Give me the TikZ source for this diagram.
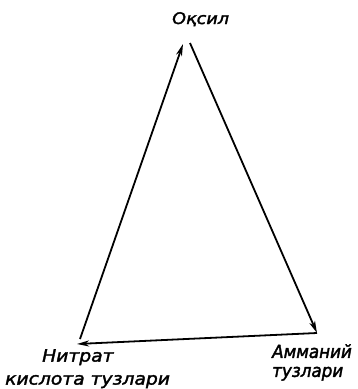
\documentclass[tikz,border=0pt]{standalone}
\usepackage{fontspec}
\newfontfamily\lblfonta[FakeStretch=1.1,FakeBold=2]{DejaVu Sans}
\newfontfamily\lblfontc[FakeStretch=0.93,FakeBold=2]{DejaVu Sans}
\usetikzlibrary{arrows.meta}
\begin{document}
\begin{tikzpicture}[x=1pt,y=-1pt,
  lbl/.style={inner sep=0pt, align=left},
  edge/.style={line width=1.8pt, -{Stealth[length=12pt,width=6pt,inset=3.5pt]}}]
\useasboundingbox (0,0) rectangle (358,389);
\node[lbl, anchor=base west, font=\lblfonta\itshape\fontsize{16}{20}\selectfont] (ok) at (172,24) {Оқсил};
\coordinate (top) at (183,44);
\coordinate (topR) at (190,43);
\coordinate (br) at (317,333);
\coordinate (bl) at (77,344);
\coordinate (blB) at (80,339);
\node[lbl, anchor=north west, font=\lblfonta\itshape\fontsize{17}{23}\selectfont] (nt) at (5,349) {\hspace*{37pt}Нитрат\\кислота тузлари};
\node[lbl, anchor=north west, font=\lblfontc\itshape\fontsize{18}{19}\selectfont] (am) at (272,344) {Амманий\\тузлари};
\draw[edge] (blB) -- (top);
\draw[edge] (topR) -- (br);
\draw[edge] (br) -- (bl);
\end{tikzpicture}
\end{document}
